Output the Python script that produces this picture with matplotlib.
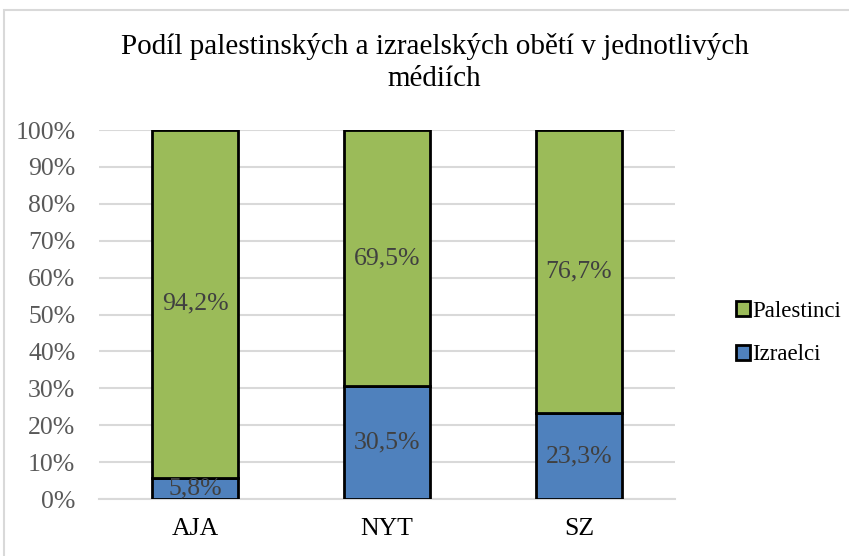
import matplotlib.pyplot as plt
from matplotlib.patches import Rectangle

# data
media = ["AJA", "NYT", "SZ"]
izraelci = [5.8, 30.5, 23.3]
palestinci = [94.2, 69.5, 76.7]
yticks = [0, 10, 20, 30, 40, 50, 60, 70, 80, 90, 100]

plt.rcParams['font.family'] = ['Liberation Serif', 'DejaVu Serif']

fig = plt.figure(figsize=(8.49, 5.56), dpi=100)
ax = fig.add_axes([0.1166, 0.1025, 0.6784, 0.6635])

# light frame around the chart
fig.patches.append(Rectangle((0.005, -0.01), 1.1, 0.992, transform=fig.transFigure,
                             fill=False, edgecolor='#d9d9d9', linewidth=1.5))

x = [i + 0.5 for i in range(len(media))]
w = 0.45
b1 = ax.bar(x, izraelci, w, color='#4f81bd', edgecolor='black', linewidth=2,
            label='Izraelci', zorder=3)
b2 = ax.bar(x, palestinci, w, bottom=izraelci, color='#9bbb59', edgecolor='black',
            linewidth=2, label='Palestinci', zorder=3)

for xi, iz, pa in zip(x, izraelci, palestinci):
    ax.text(xi, iz / 2, f"{iz:.1f}%".replace('.', ','), ha='center', va='center',
            fontsize=18.5, color='#404040', zorder=4)
    ax.text(xi, iz + pa / 2, f"{pa:.1f}%".replace('.', ','), ha='center', va='center',
            fontsize=18.5, color='#404040', zorder=4)

ax.set_xlim(0, 3)
ax.set_ylim(0, 100)
ax.set_yticks(yticks)
ax.set_yticklabels([f"{t}%" for t in yticks], fontsize=18.5, color='#595959')
ax.set_xticks(x)
ax.set_xticklabels(media, fontsize=18.5, color='black')
ax.tick_params(axis='x', length=0, pad=14)
ax.tick_params(axis='y', length=0, pad=17)
ax.grid(axis='y', color='#d9d9d9', linewidth=1.5, zorder=0)
for s in ['top', 'right', 'left']:
    ax.spines[s].set_visible(False)
ax.spines['bottom'].set_color('#d9d9d9')
ax.spines['bottom'].set_linewidth(1.5)

fig.suptitle("Podíl palestinských a izraelských obětí v jednotlivých\nmédiích",
             x=0.512, y=0.94, fontsize=21, linespacing=1.3)

leg = ax.legend(handles=[b2, b1], loc='center left', bbox_to_anchor=(1.082, 0.45),
                frameon=False, fontsize=16.5, handlelength=0.6, handleheight=0.6,
                handletextpad=0.12, labelspacing=1.0, borderaxespad=0.2)

fig.savefig("out.png", dpi=100)
